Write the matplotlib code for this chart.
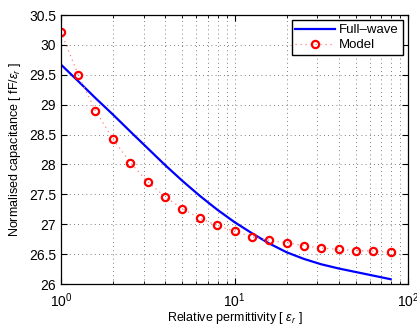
import numpy as np
import matplotlib
matplotlib.use("Agg")
import matplotlib.pyplot as plt
from matplotlib.ticker import LogLocator

plt.rcParams['font.family'] = 'Liberation Sans'
plt.rcParams['mathtext.fontset'] = 'custom'
plt.rcParams['mathtext.rm'] = 'Liberation Sans'
plt.rcParams['mathtext.it'] = 'Liberation Sans:italic'

# relative permittivity samples
eps_r = [1.0, 1.26, 1.58, 2.0, 2.51, 3.16, 3.98, 5.01, 6.31, 7.94,
         10.0, 12.6, 15.8, 20.0, 25.1, 31.6, 39.8, 50.1, 63.1, 79.4]

# full-wave simulation
full_wave = [29.67, 29.39, 29.11, 28.83, 28.55, 28.27, 27.99, 27.725, 27.475, 27.245,
             27.035, 26.85, 26.68, 26.53, 26.42, 26.33, 26.26, 26.20, 26.14, 26.08]

# model
model = [30.22, 29.49, 28.90, 28.42, 28.03, 27.71, 27.46, 27.26, 27.10, 26.98,
         26.88, 26.79, 26.73, 26.69, 26.64, 26.60, 26.58, 26.56, 26.55, 26.53]

yticks = [26, 26.5, 27, 27.5, 28, 28.5, 29, 29.5, 30, 30.5]
ytick_labels = ['26', '26.5', '27', '27.5', '28', '28.5', '29', '29.5', '30', '30.5']

fig = plt.figure(figsize=(4.17, 3.25), dpi=100)
ax = fig.add_axes([61 / 417, 41 / 325, 347 / 417, 269 / 325])

ax.plot(eps_r, full_wave, color='#0000ff', lw=1.6, label='Full\u2013wave')
ax.plot(eps_r, model, color='#ff0000', ls=(0, (1, 3)), lw=0.9, marker='o', ms=5.2,
        mfc='none', mec='#ff0000', mew=1.6, label='Model')
ax.lines[-1].set_color('#ff8080')
ax.lines[-1].set_markeredgecolor('#ff0000')

ax.set_xscale('log')
ax.set_xlim(1, 100)
ax.set_ylim(26, 30.5)
ax.set_yticks(yticks)
ax.set_yticklabels(ytick_labels)
ax.xaxis.set_minor_locator(LogLocator(base=10, subs=np.arange(2, 10)))

grid_style = dict(color='#555555', ls=(0, (1, 4)), lw=0.6)
ax.grid(True, which='major', **grid_style)
ax.grid(True, which='minor', axis='x', **grid_style)
ax.tick_params(which='both', direction='in', top=True, right=True, labelsize=10)
ax.tick_params(which='major', length=4)
ax.tick_params(which='minor', length=2)
ax.tick_params(axis='x', pad=5)
for s in ax.spines.values():
    s.set_linewidth(0.9)

ax.set_xlabel(r'Relative permittivity [ $\varepsilon_r$ ]', fontsize=9, labelpad=0)
ax.set_ylabel(r'Normalised capacitance [ fF/$\varepsilon_r$ ]', fontsize=9, labelpad=4)

leg = ax.legend(loc='upper right', fontsize=9.5, fancybox=False, framealpha=1,
                edgecolor='k', borderpad=0.3, handlelength=3, handletextpad=0.3,
                labelspacing=0.2, borderaxespad=0.4)
leg.get_frame().set_linewidth(1.0)

fig.savefig('out.png', dpi=100)
